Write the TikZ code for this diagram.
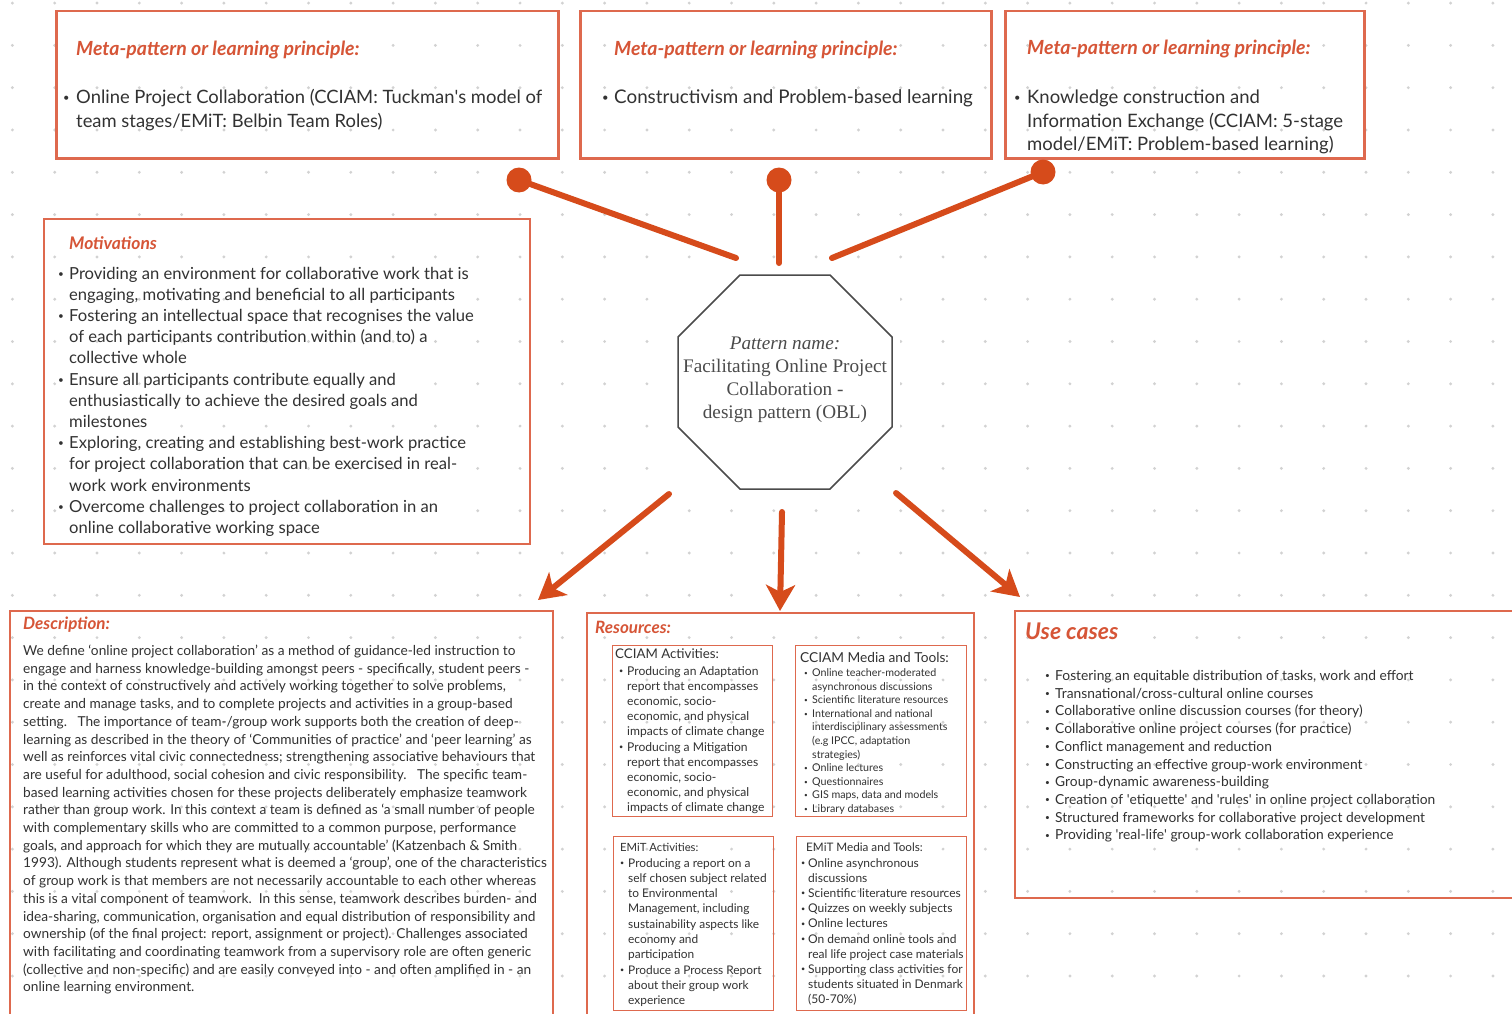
\documentclass[tikz,border=0pt]{standalone}
\usepackage{fontspec}
\usepackage{graphicx}
\setmainfont{Lato}
\newfontfamily\octfont{Liberation Serif}
\usetikzlibrary{arrows.meta}
\definecolor{boxc}{RGB}{222,105,78}
\definecolor{headc}{RGB}{214,85,55}
\definecolor{connc}{RGB}{214,75,27}
\definecolor{txtc}{RGB}{50,50,50}
\definecolor{gridc}{RGB}{210,210,210}
\definecolor{octc}{RGB}{75,75,75}
\newcommand\fz[2]{\fontsize{#1}{#2}\selectfont}
\newcommand\bl[1]{\makebox[#1][l]{\raisebox{.12em}{\scalebox{.6}{\textbullet}}}}
\tikzset{
  bigbox/.style={draw=boxc, line width=2.5pt, anchor=north west, inner sep=0pt},
  midbox/.style={draw=boxc, line width=2pt, anchor=north west, inner sep=0pt},
  subbox/.style={draw=boxc, line width=1.2pt, anchor=north west, inner sep=0pt},
  head/.style={text=headc, anchor=base west, inner sep=0pt},
  body/.style={text=txtc, anchor=base west, inner sep=0pt},
  dotn/.style={circle, fill=connc, minimum size=25pt, inner sep=0pt},
  conn/.style={draw=connc, line width=6pt, line cap=round},
  arr/.style={draw=connc, line width=6pt, line cap=round, -{Stealth[length=26pt,width=29pt,inset=7pt]}},
}
\begin{document}
\begin{tikzpicture}[x=1pt,y=-1pt]
\useasboundingbox (0,0) rectangle (1512,1014);
\fill[white] (0,0) rectangle (1512,1014);
% dot grid
\foreach \i in {0,...,35} \foreach \j in {0,...,23}
  \fill[gridc] ({12.4+42.3*\i},{3.1+42.3*\j}) circle[radius=1.6pt];
\fill[white] (668,270) rectangle (900,497);

% ---------- meta boxes ----------
\node[bigbox, minimum width=502pt, minimum height=147pt] (meta1) at (55,10) {};
\node[head, font=\fz{19.5}{22}\bfseries\itshape] (meta1h) at (76,55.5) {Meta-pattern or learning principle:};
\node[body, font=\fz{18.4}{24}] (meta1t) at (63,104) {\begin{tabular}[t]{@{}l@{}l@{}}
\bl{13pt} & Online Project Collaboration (CCIAM: Tuckman\textquotesingle s model of\\
 & team stages/EMiT: Belbin Team Roles)\end{tabular}};

\node[bigbox, minimum width=411pt, minimum height=147pt] (meta2) at (579,10) {};
\node[head, font=\fz{19.5}{22}\bfseries\itshape] (meta2h) at (614,55.5) {Meta-pattern or learning principle:};
\node[body, font=\fz{18.8}{24}] (meta2t) at (602,104) {\begin{tabular}[t]{@{}l@{}l@{}}
\bl{12pt} & Constructivism and Problem-based learning\end{tabular}};

\node[bigbox, minimum width=359pt, minimum height=147pt] (meta3) at (1004,10) {};
\node[head, font=\fz{19.5}{22}\bfseries\itshape] (meta3h) at (1027,54.5) {Meta-pattern or learning principle:};
\node[body, font=\fz{18.5}{23.5}] (meta3t) at (1014,104) {\begin{tabular}[t]{@{}l@{}l@{}}
\bl{13pt} & Knowledge construction and\\
 & Information Exchange (CCIAM: 5-stage\\
 & model/EMiT: Problem-based learning)\end{tabular}};

% ---------- motivations ----------
\node[midbox, minimum width=486pt, minimum height=325pt] (motiv) at (43,218) {};
\node[head, font=\fz{17.4}{20}\bfseries\itshape] (motivh) at (69,249.5) {Motivations};
\node[body, font=\fz{16.6}{21.2}] (motivt) at (58,279) {\begin{tabular}[t]{@{}l@{}l@{}}
\bl{11pt} & Providing an environment for collaborative work that is\\
 & engaging, motivating and beneficial to all participants\\
\bl{11pt} & Fostering an intellectual space that recognises the value\\
 & of each participants contribution within (and to) a\\
 & collective whole\\
\bl{11pt} & Ensure all participants contribute equally and\\
 & enthusiastically to achieve the desired goals and\\
 & milestones\\
\bl{11pt} & Exploring, creating and establishing best-work practice\\
 & for project collaboration that can be exercised in real-\\
 & work work environments\\
\bl{11pt} & Overcome challenges to project collaboration in an\\
 & online collaborative working space\end{tabular}};

% ---------- pattern name octagon ----------
\node[text=octc, font=\octfont\fz{19.2}{23}, align=center, inner sep=0pt] (oct) at (785,380)
  {\itshape Pattern name:\\ Facilitating Online Project\\ Collaboration -\\ design pattern (OBL)};
\draw[octc, line width=1.5pt] (740,275) -- (830,275) -- (892,337) -- (892,427) -- (830,489)
  -- (740,489) -- (678,427) -- (678,337) -- cycle;

% ---------- connectors top ----------
\node[dotn] (d1) at (519,180) {};
\node[dotn] (d2) at (779,180) {};
\node[dotn] (d3) at (1043,172) {};
\coordinate (e1) at (736,258);
\coordinate (e2) at (779,263);
\coordinate (e3) at (832,258);
\draw[conn] (d1.center) -- (e1);
\draw[conn] (d2.center) -- (e2);
\draw[conn] (d3.center) -- (e3);

% ---------- arrows bottom ----------
\coordinate (s4) at (669,494);
\coordinate (t4) at (538,600);
\coordinate (s5) at (782,512);
\coordinate (t5) at (780,611);
\coordinate (s6) at (896,493);
\coordinate (t6) at (1020,597);
\draw[arr] (s4) -- (t4);
\draw[arr] (s5) -- (t5);
\draw[arr] (s6) -- (t6);

% ---------- description ----------
\node[midbox, minimum width=543pt, minimum height=420pt] (desc) at (9,610) {};
\node[head, font=\fz{17}{20}\bfseries\itshape] (desch) at (23,629.5) {Description:};
\node[body, font=\fz{13.7}{17.7}] (desct) at (23,655.5) {\begin{tabular}[t]{@{}l@{}}
We define ‘online project collaboration’ as a method of guidance-led instruction to\\
engage and harness knowledge-building amongst peers - specifically, student peers -\\
in the context of constructively and actively working together to solve problems,\\
create and manage tasks, and to complete projects and activities in a group-based\\
setting.\ \ \ The importance of team-/group work supports both the creation of deep-\\
learning as described in the theory of ‘Communities of practice’ and ‘peer learning’ as\\
well as reinforces vital civic connectedness; strengthening associative behaviours that\\
are useful for adulthood, social cohesion and civic responsibility.\ \ \ The specific team-\\
based learning activities chosen for these projects deliberately emphasize teamwork\\
rather than group work. In this context a team is defined as ‘a small number of people\\
with complementary skills who are committed to a common purpose, performance\\
goals, and approach for which they are mutually accountable’ (Katzenbach \& Smith\\
1993). Although students represent what is deemed a ‘group’, one of the characteristics\\
of group work is that members are not necessarily accountable to each other whereas\\
this is a vital component of teamwork.\ \ In this sense, teamwork describes burden- and\\
idea-sharing, communication, organisation and equal distribution of responsibility and\\
ownership (of the final project: report, assignment or project). Challenges associated\\
with facilitating and coordinating teamwork from a supervisory role are often generic\\
(collective and non-specific) and are easily conveyed into - and often amplified in - an\\
online learning environment.\end{tabular}};

% ---------- resources ----------
\node[midbox, minimum width=387pt, minimum height=420pt] (res) at (586,612) {};
\node[head, font=\fz{17}{20}\bfseries\itshape] (resh) at (595,633.5) {Resources:};

\node[subbox, minimum width=160pt, minimum height=171pt] (cca) at (612,645) {};
\node[body, font=\fz{13.3}{17}] (ccah) at (615,658) {CCIAM Activities:};
\node[body, font=\fz{12.1}{15.2}] (ccat) at (619,675) {\begin{tabular}[t]{@{}l@{}l@{}}
\bl{8pt} & Producing an Adaptation\\
 & report that encompasses\\
 & economic, socio-\\
 & economic, and physical\\
 & impacts of climate change\\
\bl{8pt} & Producing a Mitigation\\
 & report that encompasses\\
 & economic, socio-\\
 & economic, and physical\\
 & impacts of climate change\end{tabular}};

\node[subbox, minimum width=171pt, minimum height=171pt] (ccm) at (795,645) {};
\node[body, font=\fz{13.7}{17}] (ccmh) at (800,662.5) {CCIAM Media and Tools:};
\node[body, font=\fz{10.7}{13.6}] (ccmt) at (804,676.5) {\begin{tabular}[t]{@{}l@{}l@{}}
\bl{8pt} & Online teacher-moderated\\
 & asynchronous discussions\\
\bl{8pt} & Scientific literature resources\\
\bl{8pt} & International and national\\
 & interdisciplinary assessments\\
 & (e.g IPCC, adaptation\\
 & strategies)\\
\bl{8pt} & Online lectures\\
\bl{8pt} & Questionnaires\\
\bl{8pt} & GIS maps, data and models\\
\bl{8pt} & Library databases\end{tabular}};

\node[subbox, minimum width=160pt, minimum height=174pt] (ema) at (613,836) {};
\node[body, font=\fz{11.3}{15}] (emah) at (620,851) {EMiT Activities:};
\node[body, font=\fz{11.9}{15.3}] (emat) at (620,867) {\begin{tabular}[t]{@{}l@{}l@{}}
\bl{8pt} & Producing a report on a\\
 & self chosen subject related\\
 & to Environmental\\
 & Management, including\\
 & sustainability aspects like\\
 & economy and\\
 & participation\\
\bl{8pt} & Produce a Process Report\\
 & about their group work\\
 & experience\end{tabular}};

\node[subbox, minimum width=170pt, minimum height=174pt] (emm) at (796,836) {};
\node[body, font=\fz{11.7}{15}] (emmh) at (806,851) {EMiT Media and Tools:};
\node[body, font=\fz{12}{15.2}] (emmt) at (801,867) {\begin{tabular}[t]{@{}l@{}l@{}}
\bl{7pt} & Online asynchronous\\
 & discussions\\
\bl{7pt} & Scientific literature resources\\
\bl{7pt} & Quizzes on weekly subjects\\
\bl{7pt} & Online lectures\\
\bl{7pt} & On demand online tools and\\
 & real life project case materials\\
\bl{7pt} & Supporting class activities for\\
 & students situated in Denmark\\
 & (50-70\%)\end{tabular}};

% ---------- use cases ----------
\node[midbox, minimum width=520pt, minimum height=287pt] (uses) at (1014,610) {};
\node[head, font=\fz{23}{25}\bfseries\itshape] (usesh) at (1025,639.5) {Use cases};
\node[body, font=\fz{13.8}{17.7}] (usest) at (1045,680.5) {\begin{tabular}[t]{@{}l@{}l@{}}
\bl{10pt} & Fostering an equitable distribution of tasks, work and effort\\
\bl{10pt} & Transnational/cross-cultural online courses\\
\bl{10pt} & Collaborative online discussion courses (for theory)\\
\bl{10pt} & Collaborative online project courses (for practice)\\
\bl{10pt} & Conflict management and reduction\\
\bl{10pt} & Constructing an effective group-work environment\\
\bl{10pt} & Group-dynamic awareness-building\\
\bl{10pt} & Creation of \textquotesingle etiquette\textquotesingle\ and \textquotesingle rules\textquotesingle\ in online project collaboration\\
\bl{10pt} & Structured frameworks for collaborative project development\\
\bl{10pt} & Providing \textquotesingle real-life\textquotesingle\ group-work collaboration experience\end{tabular}};
\end{tikzpicture}
\end{document}
